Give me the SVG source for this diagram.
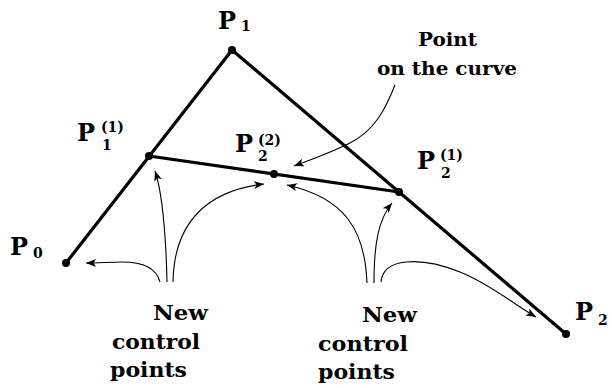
<svg xmlns="http://www.w3.org/2000/svg" width="612" height="388" viewBox="0 0 612 388">
<defs>
<marker id="ah" markerUnits="userSpaceOnUse" markerWidth="12" markerHeight="10" refX="10" refY="4" orient="auto">
<path d="M0,0 L10,4 L0,8 L2.5,4 Z" fill="#000"/>
</marker>
</defs>
<rect width="612" height="388" fill="#fff"/>
<g id="polygon" fill="none" stroke="#000" stroke-width="3.2" stroke-linecap="round" stroke-linejoin="round">
<polyline points="66,263 232,50 566,334"/>
<line x1="149" y1="156" x2="399" y2="192"/>
</g>
<g id="P0"><circle cx="66" cy="263" r="4" fill="#000"/><text font-family="DejaVu Serif" font-weight="bold" font-size="24" x="10" y="255">P<tspan font-size="14" x="33" y="258">0</tspan></text></g>
<g id="P1"><circle cx="232" cy="50" r="4" fill="#000"/><text font-family="DejaVu Serif" font-weight="bold" font-size="24" x="218" y="29">P<tspan font-size="14" x="241" y="31">1</tspan></text></g>
<g id="P2"><circle cx="566" cy="334" r="4" fill="#000"/><text font-family="DejaVu Serif" font-weight="bold" font-size="24" x="575" y="320">P<tspan font-size="14" x="598" y="325">2</tspan></text></g>
<g id="P1_1"><circle cx="149" cy="156" r="4" fill="#000"/><text font-family="DejaVu Serif" font-weight="bold" font-size="24" x="77" y="141">P<tspan font-size="14" x="101" y="132">(1)</tspan><tspan font-size="14" x="102" y="150">1</tspan></text></g>
<g id="P2_2"><circle cx="274" cy="174" r="4" fill="#000"/><text font-family="DejaVu Serif" font-weight="bold" font-size="24" x="235" y="152">P<tspan font-size="14" x="258" y="145">(2)</tspan><tspan font-size="14" x="258" y="161">2</tspan></text></g>
<g id="P2_1"><circle cx="399" cy="192" r="4" fill="#000"/><text font-family="DejaVu Serif" font-weight="bold" font-size="24" x="417" y="169">P<tspan font-size="14" x="440" y="160">(1)</tspan><tspan font-size="14" x="441" y="178">2</tspan></text></g>
<g id="point-on-curve">
<text font-family="DejaVu Serif" font-weight="bold" font-size="19" x="418" y="46" textLength="59" lengthAdjust="spacingAndGlyphs">Point</text>
<text font-family="DejaVu Serif" font-weight="bold" font-size="19" x="377" y="75" textLength="140" lengthAdjust="spacingAndGlyphs">on the curve</text>
</g>
<g id="new-left">
<text font-family="DejaVu Serif" font-weight="bold" font-size="20" x="153" y="320" textLength="55" lengthAdjust="spacingAndGlyphs">New</text>
<text font-family="DejaVu Serif" font-weight="bold" font-size="20" x="112" y="349" textLength="88" lengthAdjust="spacingAndGlyphs">control</text>
<text font-family="DejaVu Serif" font-weight="bold" font-size="20" x="110" y="377" textLength="77" lengthAdjust="spacingAndGlyphs">points</text>
</g>
<g id="new-right">
<text font-family="DejaVu Serif" font-weight="bold" font-size="20" x="362" y="322" textLength="55" lengthAdjust="spacingAndGlyphs">New</text>
<text font-family="DejaVu Serif" font-weight="bold" font-size="20" x="318" y="351" textLength="90" lengthAdjust="spacingAndGlyphs">control</text>
<text font-family="DejaVu Serif" font-weight="bold" font-size="20" x="318" y="379" textLength="77" lengthAdjust="spacingAndGlyphs">points</text>
</g>
<g id="connectors" fill="none" stroke="#000" stroke-width="1.1" marker-end="url(#ah)">
<path d="M160,282 C156,266 140,262 122,262 C110,262 98,263 86,263"/>
<path d="M167,282 C166,240 163,195 155,171"/>
<path d="M173,282 C174,220 210,190 264,184"/>
<path d="M367,283 C365,230 345,198 287,185"/>
<path d="M374,283 C374,245 378,220 392,203"/>
<path d="M381,282 C383,258 420,256 460,272 C490,284 515,305 536,317"/>
<path d="M395,85 C385,110 375,130 350,143 C330,153 310,160 294,166"/>
</g>
</svg>
